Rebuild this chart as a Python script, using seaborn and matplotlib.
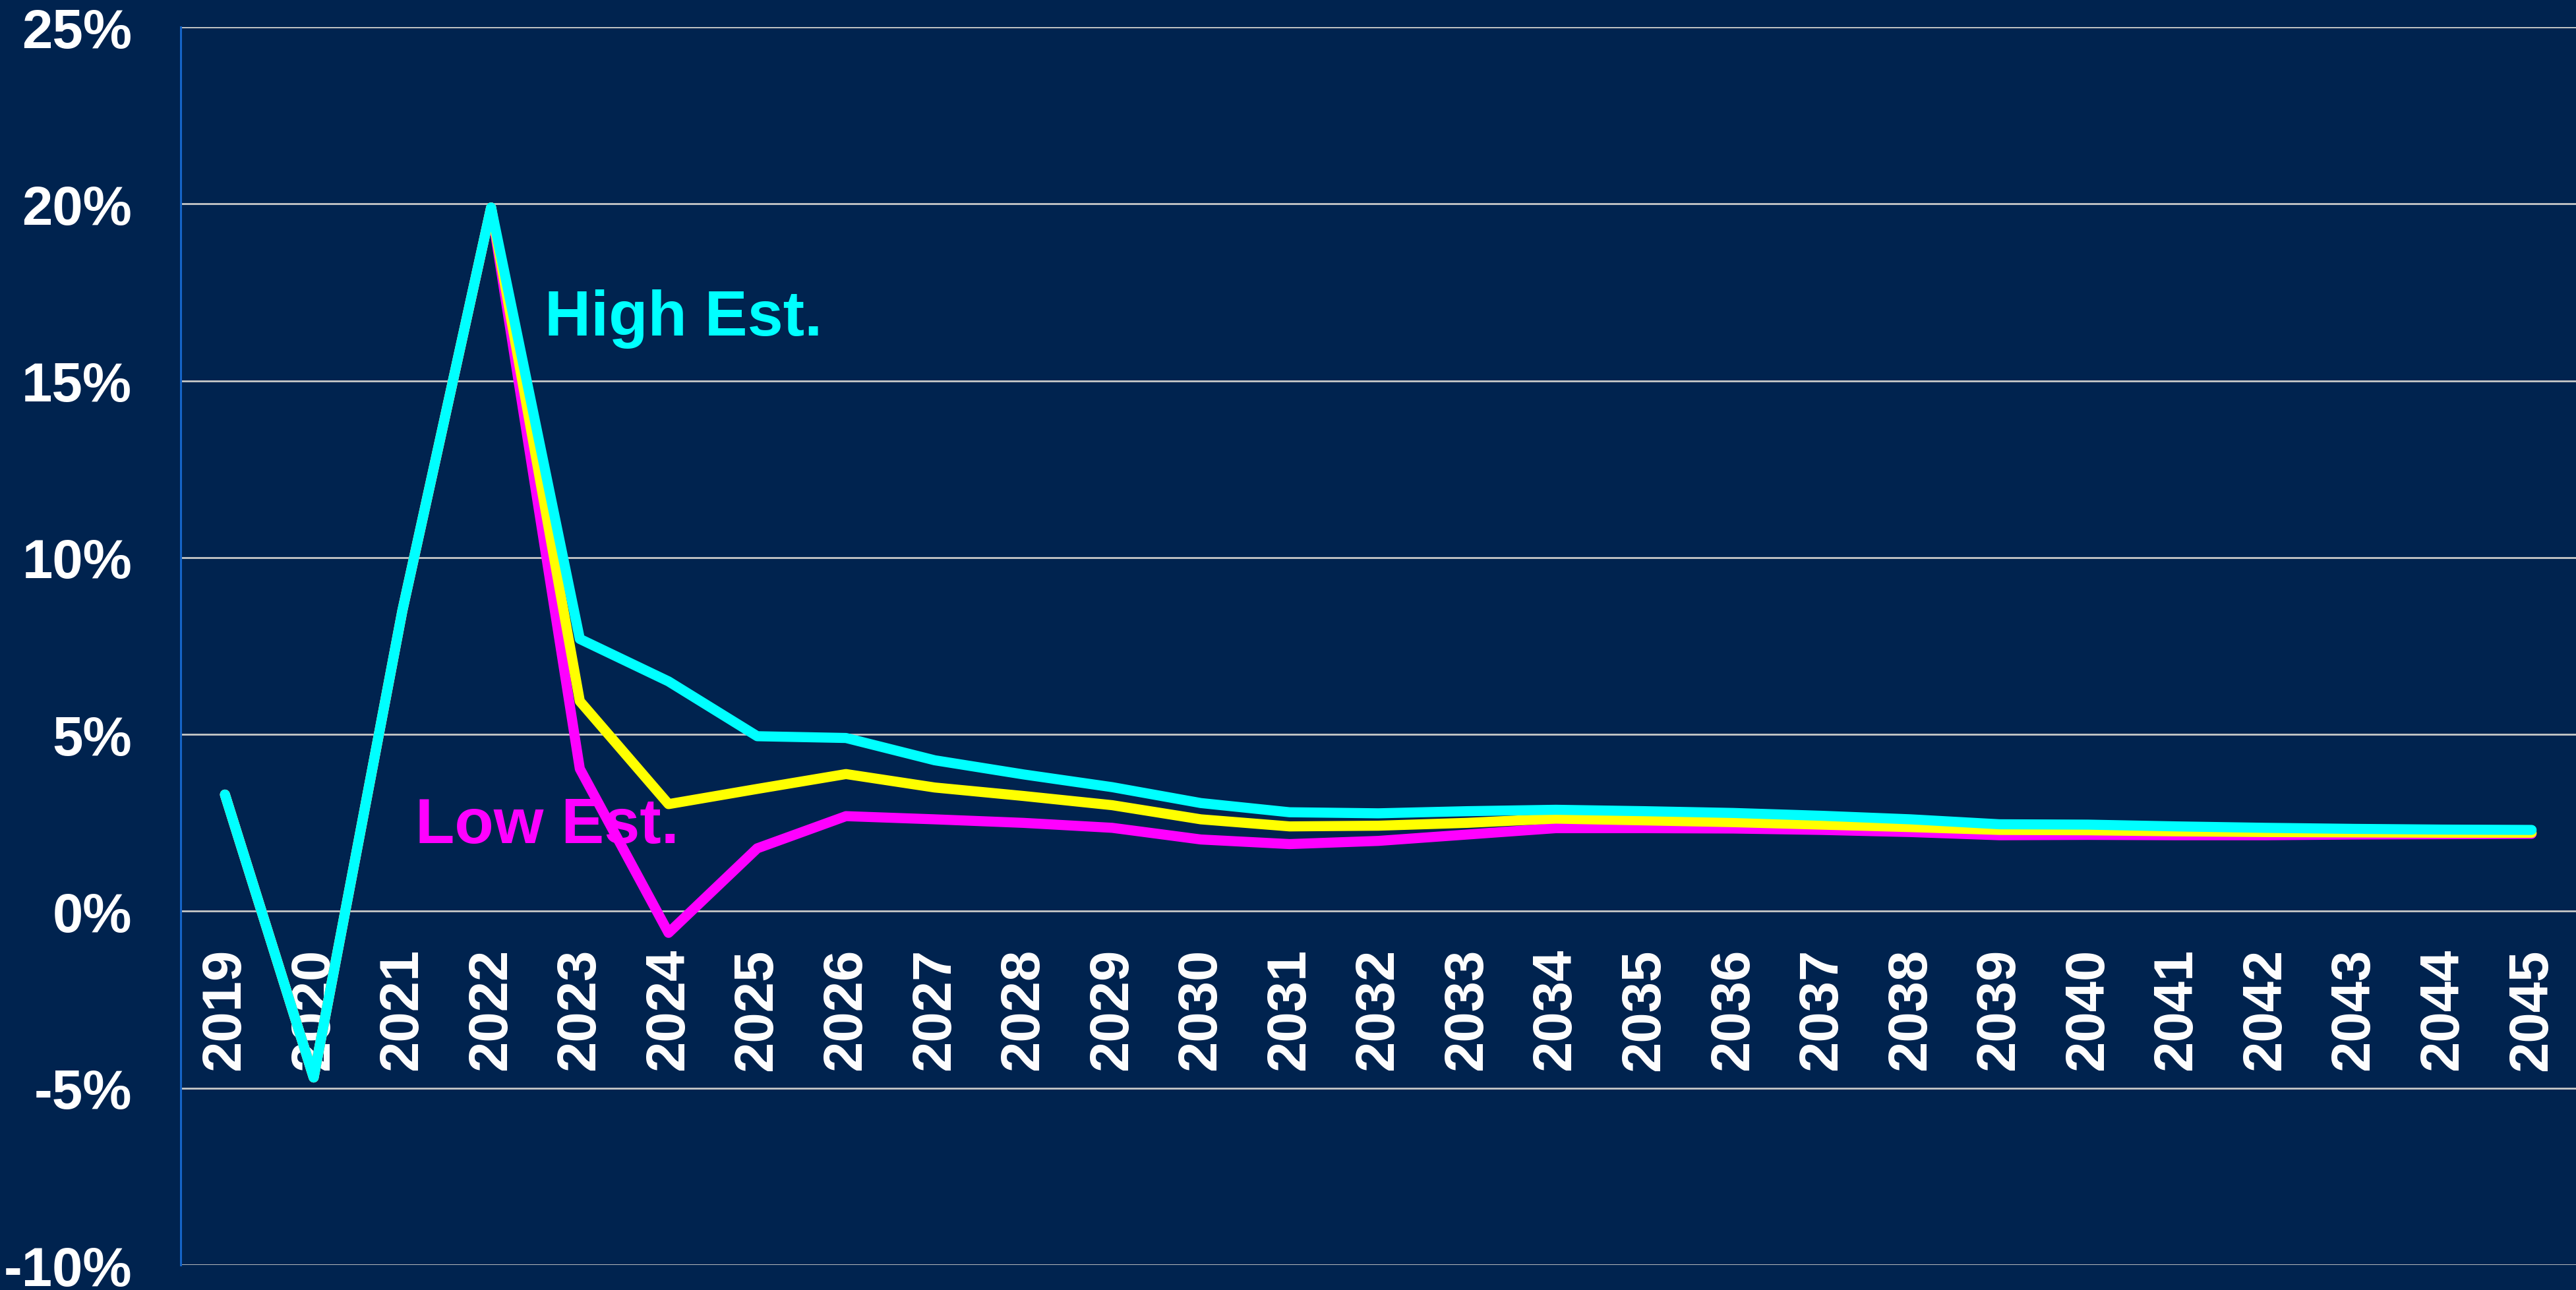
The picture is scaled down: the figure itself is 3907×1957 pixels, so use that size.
import pandas as pd
import matplotlib
matplotlib.use('Agg')
import matplotlib.pyplot as plt
import seaborn as sns

years = [str(y) for y in range(2019, 2046)]

high_est = [3.3, -4.7, 8.5, 19.9, 7.7, 6.5, 4.95, 4.9, 4.27, 3.87, 3.51, 3.06, 2.8, 2.77,
            2.83, 2.87, 2.83, 2.78, 2.7, 2.6, 2.46, 2.45, 2.4, 2.36, 2.33, 2.31, 2.3]
mid_est = [3.3, -4.7, 8.5, 19.9, 5.94, 3.03, 3.46, 3.88, 3.5, 3.26, 3.0, 2.6, 2.4, 2.42,
           2.5, 2.62, 2.57, 2.52, 2.45, 2.38, 2.3, 2.29, 2.26, 2.24, 2.23, 2.22, 2.22]
low_est = [3.3, -4.7, 8.5, 19.9, 4.03, -0.61, 1.78, 2.69, 2.6, 2.5, 2.36, 2.03, 1.9, 1.99,
           2.17, 2.35, 2.35, 2.34, 2.3, 2.24, 2.15, 2.16, 2.15, 2.15, 2.17, 2.18, 2.19]

y_ticks = [-10, -5, 0, 5, 10, 15, 20, 25]

bg = '#00234f'

sns.set_style('white')
plt.rcParams['font.family'] = ['Liberation Sans', 'DejaVu Sans']

fig = plt.figure(figsize=(39.07, 19.58), dpi=100, facecolor=bg)
ax = fig.add_axes([0.0701, 0.0194, 0.9299, 0.9591])
ax.set_facecolor(bg)

# gridlines first so the lines sit on top
for t in y_ticks:
    ax.axhline(t, color='#c8c8c8', lw=2, zorder=1)

sns.lineplot(x=years, y=low_est, color='#ff00ff', ax=ax, zorder=3)
sns.lineplot(x=years, y=mid_est, color='#ffff00', ax=ax, zorder=3)
sns.lineplot(x=years, y=high_est, color='#00ffff', ax=ax, zorder=3)
for line in ax.get_lines():
    if line.get_zorder() == 3:
        line.set_linewidth(11)
        line.set_solid_capstyle('round')
        line.set_solid_joinstyle('round')

# category axis crosses at 0 (set before styling ticks, it resets them)
ax.spines['bottom'].set_position(('data', 0))
ax.spines['bottom'].set_visible(False)
ax.spines['top'].set_visible(False)
ax.spines['right'].set_visible(False)
ax.spines['left'].set_color('#1565c8')
ax.spines['left'].set_linewidth(2.2)

ax.set_xlim(-0.5, len(years) - 0.5)
ax.set_ylim(-10, 25)
ax.set_yticks(y_ticks)
ax.set_yticklabels([f'{t}%' for t in y_ticks], fontsize=60, fontweight='bold', color='white')
ax.set_xticks(range(len(years)))
ax.set_xticklabels(years, rotation=90, fontsize=60, fontweight='bold', color='white')
ax.tick_params(axis='y', length=0, pad=53)
ax.tick_params(axis='x', length=0, pad=40)
ax.set_xlabel('')
ax.set_ylabel('')

ax.text(3.6, 16.3, 'High Est.', color='#00ffff', fontsize=70, fontweight='bold',
        ha='left', va='baseline', zorder=4)
ax.text(2.15, 1.94, 'Low Est.', color='#ff00ff', fontsize=70, fontweight='bold',
        ha='left', va='baseline', zorder=2)

fig.savefig('out.png', dpi=100, facecolor=bg)
